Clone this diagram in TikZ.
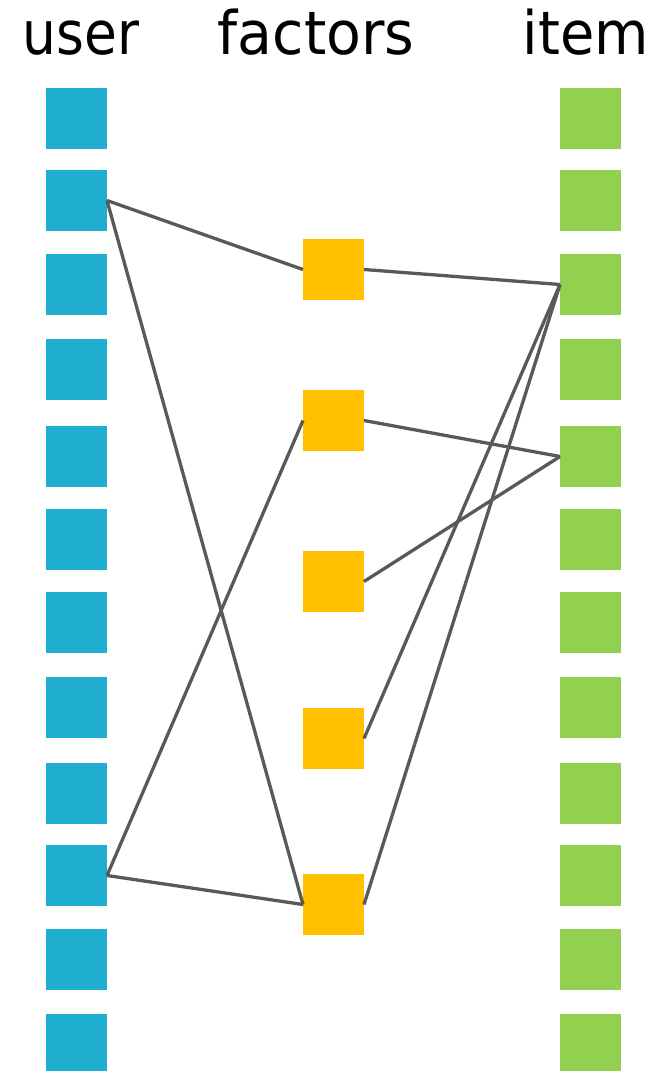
\documentclass[tikz,border=0pt]{standalone}
\usepackage{fontspec}
\usepackage{graphicx}
\setmainfont{DejaVu Sans}
\definecolor{ublue}{HTML}{1FAECF}
\definecolor{forange}{HTML}{FFC000}
\definecolor{igreen}{HTML}{92D050}
\definecolor{lgray}{HTML}{595959}
\tikzset{
  sq/.style={rectangle, minimum size=61bp, inner sep=0pt, outer sep=0pt, draw=none},
  usq/.style={sq, fill=ublue},
  fsq/.style={sq, fill=forange},
  isq/.style={sq, fill=igreen},
  lnk/.style={draw=lgray, line width=3.3bp},
  hdr/.style={anchor=base, inner sep=0pt, font=\fontsize{60bp}{72bp}\selectfont}
}
\begin{document}
\begin{tikzpicture}[x=1bp, y=-1bp]
\useasboundingbox (0,0) rectangle (658,1071);
\clip (0,0) rectangle (658,1071);
\node[hdr] (hu) at (81,54) {\scalebox{0.89}[1]{user}};
\node[hdr] (hf) at (316,54) {\scalebox{0.95}[1]{factors}};
\node[hdr] (hi) at (586,54) {\scalebox{0.93}[1]{item}};
\foreach \t [count=\k] in {88,170,254,339,426,509,592,677,763,845,929,1014} {
  \node[usq] (u\k) at (76.5,\t+30.5) {};
  \node[isq] (i\k) at (590.5,\t+30.5) {};
}
\foreach \t [count=\k] in {239,390,551,708,874} {
  \node[fsq] (f\k) at (333.5,\t+30.5) {};
}
\draw[lnk] (u2.east) -- (f1.west);
\draw[lnk] (f1.east) -- (i3.west);
\draw[lnk] (u2.east) -- (f5.west);
\draw[lnk] (f2.west) -- (u10.east);
\draw[lnk] (u10.east) -- (f5.west);
\draw[lnk] (f2.east) -- (i5.west);
\draw[lnk] (f3.east) -- (i5.west);
\draw[lnk] (f4.east) -- (i3.west);
\draw[lnk] (f5.east) -- (i3.west);
\end{tikzpicture}
\end{document}
